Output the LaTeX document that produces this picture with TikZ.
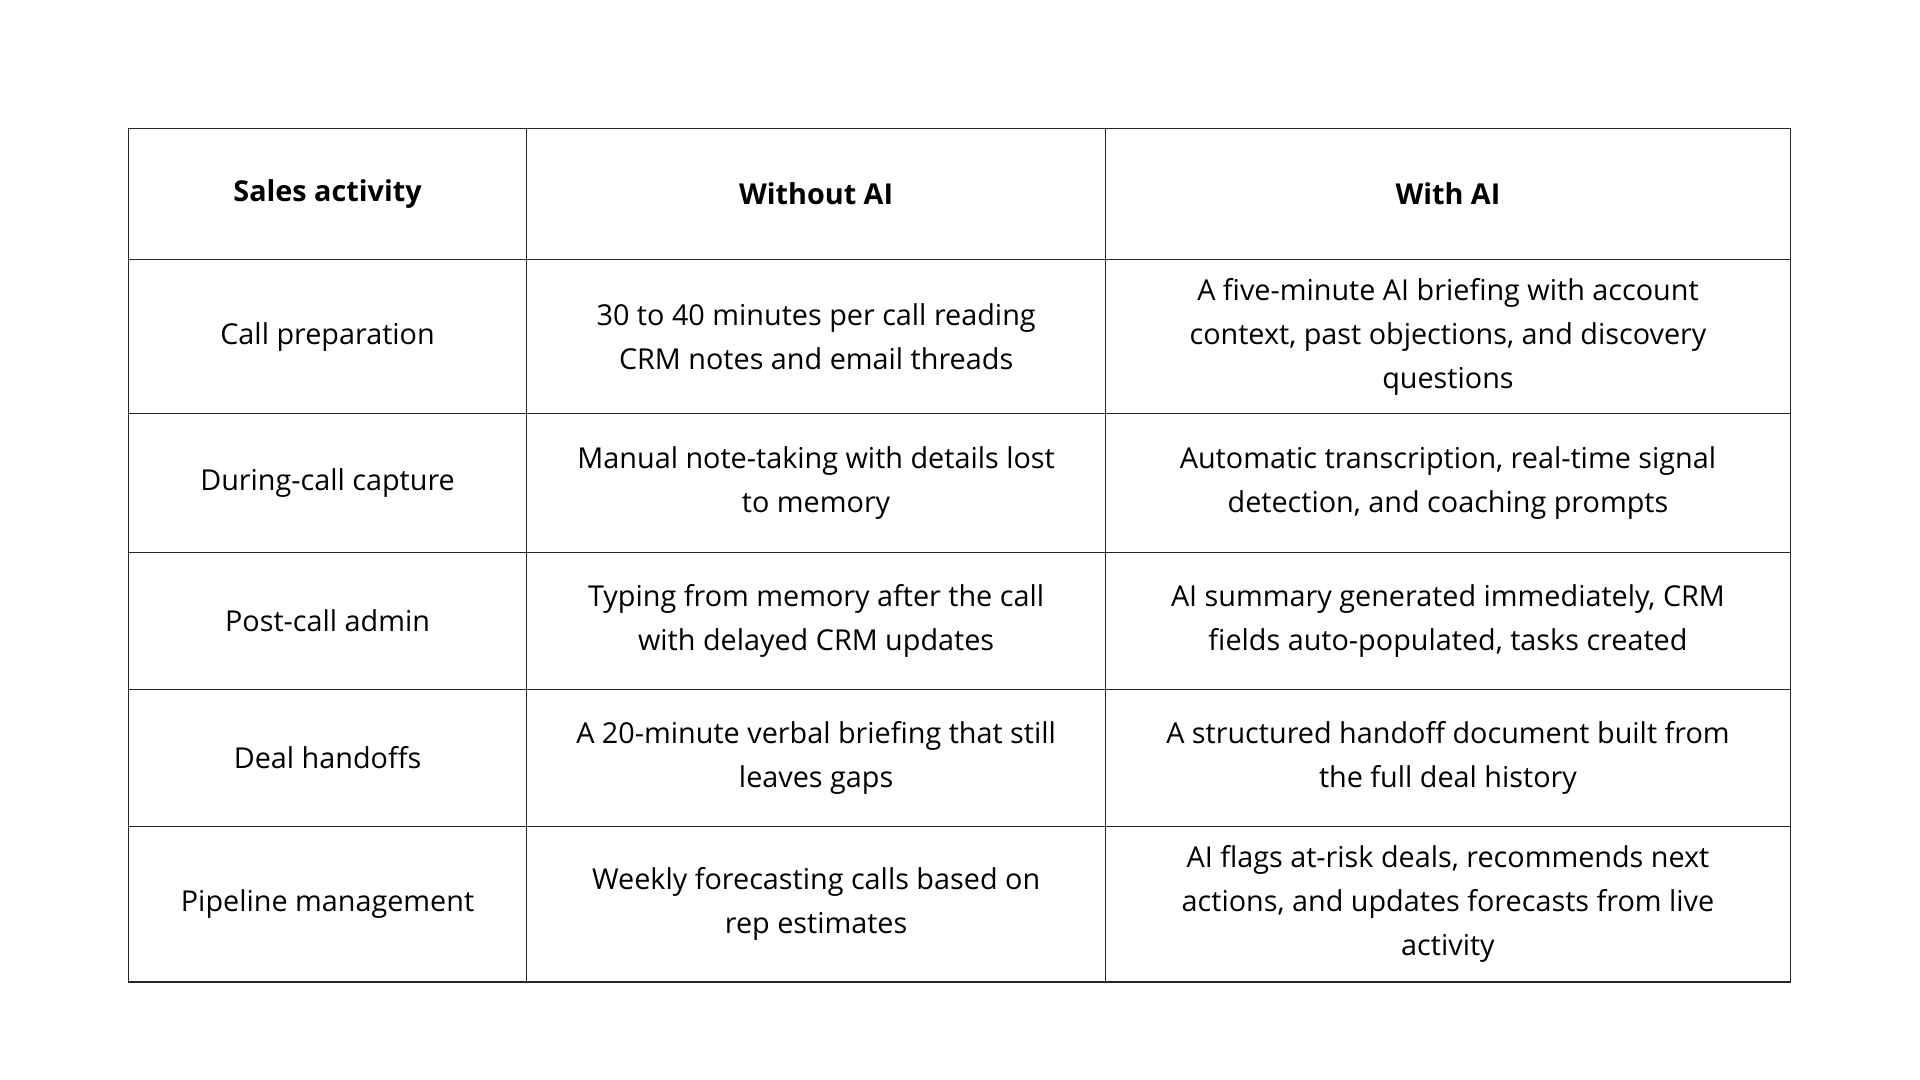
\documentclass[tikz,border=0pt]{standalone}
\usepackage{fontspec}
\setmainfont{Open Sans}
\begin{document}
\begin{tikzpicture}[x=1pt,y=-1pt,
 cell/.style={align=center,font=\fontsize{23.5}{36}\selectfont,inner sep=0pt},
 head/.style={cell,font=\fontsize{23.5}{36}\selectfont\bfseries},
 grid/.style={line width=0.9pt,black!85}]
\useasboundingbox (0,0) rectangle (1568,882);
\draw[grid] (105,105) rectangle (1462,802);
\foreach \x in {430,903} \draw[grid] (\x,105) -- (\x,802);
\foreach \y in {212,338,451,563,675} \draw[grid] (105,\y) -- (1462,\y);
\def\ca{267.5}\def\cb{666.5}\def\cc{1182.5}
\node[head] (h1) at (\ca,158.5) {Sales activity};
\node[head] (h2) at (\cb,158.5) {Without AI};
\node[head] (h3) at (\cc,158.5) {With AI};
\node[cell] (a1) at (\ca,275) {Call preparation};
\node[cell] (b1) at (\cb,275) {30 to 40 minutes per call reading\\CRM notes and email threads};
\node[cell] (c1) at (\cc,275) {A five-minute AI briefing with account\\context, past objections, and discovery\\questions};
\node[cell] (a2) at (\ca,394.5) {During-call capture};
\node[cell] (b2) at (\cb,394.5) {Manual note-taking with details lost\\to memory};
\node[cell] (c2) at (\cc,394.5) {Automatic transcription, real-time signal\\detection, and coaching prompts};
\node[cell] (a3) at (\ca,507) {Post-call admin};
\node[cell] (b3) at (\cb,507) {Typing from memory after the call\\with delayed CRM updates};
\node[cell] (c3) at (\cc,507) {AI summary generated immediately, CRM\\fields auto-populated, tasks created};
\node[cell] (a4) at (\ca,619) {Deal handoffs};
\node[cell] (b4) at (\cb,619) {A 20-minute verbal briefing that still\\leaves gaps};
\node[cell] (c4) at (\cc,619) {A structured handoff document built from\\the full deal history};
\node[cell] (a5) at (\ca,738.5) {Pipeline management};
\node[cell] (b5) at (\cb,738.5) {Weekly forecasting calls based on\\rep estimates};
\node[cell] (c5) at (\cc,738.5) {AI flags at-risk deals, recommends next\\actions, and updates forecasts from live\\activity};
\end{tikzpicture}
\end{document}
